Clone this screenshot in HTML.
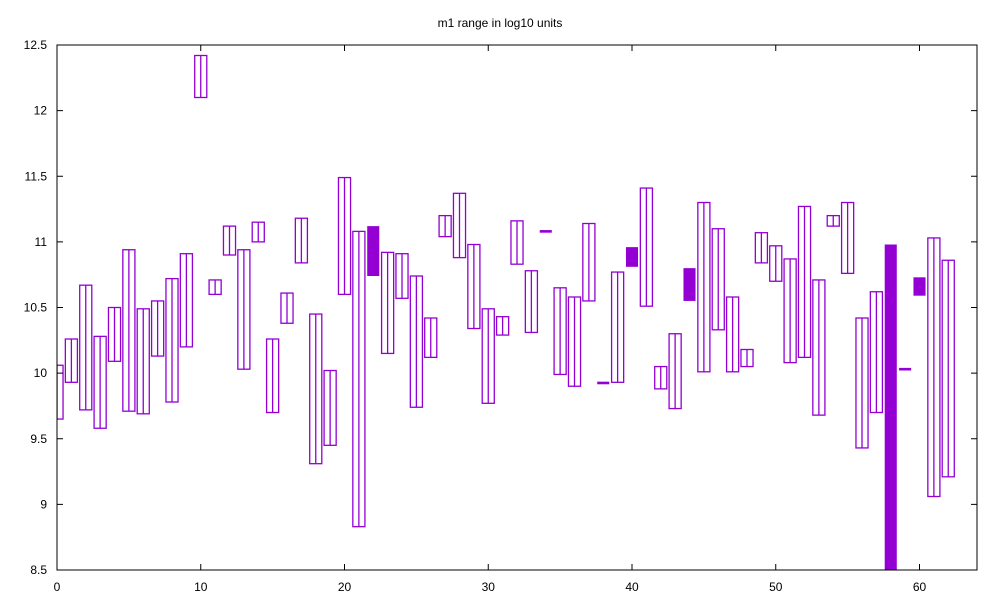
<!DOCTYPE html>
<html><head><meta charset="utf-8"><style>
body{margin:0;background:#fff;}
svg{display:block;font-family:"Liberation Sans",Arial,sans-serif;}
</style></head><body>
<svg id="chart" width="1000" height="600">
<defs><clipPath id="clip"><rect x="57" y="45" width="920" height="525"/></clipPath></defs>
<text x="500" y="27" text-anchor="middle" font-size="12">m1 range in log10 units</text>
<g id="marks" clip-path="url(#clip)"></g>
<g id="axes"></g>
<rect x="57" y="45" width="920" height="525" fill="none" stroke="#000" stroke-width="1"/>
</svg>
<script>
const xs = [0,1,2,3,4,5,6,7,8,9,10,11,12,13,14,15,16,17,18,19,20,21,22,23,24,25,26,27,28,29,30,31,32,33,34,35,36,37,38,39,40,41,42,43,44,45,46,47,48,49,50,51,52,53,54,55,56,57,58,59,60,61,62];
const lows = [9.65,9.93,9.72,9.58,10.09,9.71,9.69,10.13,9.78,10.20,12.10,10.60,10.90,10.03,11.00,9.70,10.38,10.84,9.31,9.45,10.60,8.83,10.74,10.15,10.57,9.74,10.12,11.04,10.88,10.34,9.77,10.29,10.83,10.31,11.07,9.99,9.90,10.55,9.915,9.93,10.81,10.51,9.88,9.73,10.55,10.01,10.33,10.01,10.05,10.84,10.70,10.08,10.12,9.68,11.12,10.76,9.43,9.70,8.3,10.02,10.59,9.06,9.21];
const highs = [10.06,10.26,10.67,10.28,10.50,10.94,10.49,10.55,10.72,10.91,12.42,10.71,11.12,10.94,11.15,10.26,10.61,11.18,10.45,10.02,11.49,11.08,11.12,10.92,10.91,10.74,10.42,11.20,11.37,10.98,10.49,10.43,11.16,10.78,11.09,10.65,10.58,11.14,9.935,10.77,10.96,11.41,10.05,10.30,10.80,11.30,11.10,10.58,10.18,11.07,10.97,10.87,11.27,10.71,11.20,11.30,10.42,10.62,10.98,10.04,10.73,11.03,10.86];
const filled = [0,0,0,0,0,0,0,0,0,0,0,0,0,0,0,0,0,0,0,0,0,0,1,0,0,0,0,0,0,0,0,0,0,0,1,0,0,0,1,0,1,0,0,0,1,0,0,0,0,0,0,0,0,0,0,0,0,0,1,1,1,0,0];
const xTicks = [0,10,20,30,40,50,60];
const yTicks = [8.5,9,9.5,10,10.5,11,11.5,12,12.5];
const yLabels = ["8.5","9","9.5","10","10.5","11","11.5","12","12.5"];

const L=57,R=977,T=45,B=570;
const X = v => L + (v-0)/(64-0)*(R-L);
const Y = v => T + (12.5-v)/(12.5-8.5)*(B-T);
const NS="http://www.w3.org/2000/svg";
const marks=document.getElementById('marks'), axes=document.getElementById('axes');
function mk(tag,attrs,parent){const e=document.createElementNS(NS,tag);for(const k in attrs)e.setAttribute(k,attrs[k]);parent.appendChild(e);return e;}
const C="#9400d3", hw=0.42;
xs.forEach((x,i)=>{
  const x0=X(x-hw), x1=X(x+hw), y0=Y(highs[i]), y1=Y(lows[i]);
  const g=mk('g',{},marks);
  
  
  if(filled[i]){
    mk('rect',{x:x0,y:y0,width:x1-x0,height:Math.max(y1-y0,2.5),fill:C},g);
  } else {
    mk('rect',{x:x0,y:y0,width:x1-x0,height:y1-y0,fill:"none",stroke:C,"stroke-width":1.3},g);
    mk('line',{x1:X(x),x2:X(x),y1:y0,y2:y1,stroke:C,"stroke-width":1.3},g);
  }
});
xTicks.forEach(t=>{
  const x=X(t);
  mk('line',{x1:x,x2:x,y1:B,y2:B-6,stroke:"#000"},axes);
  mk('line',{x1:x,x2:x,y1:T,y2:T+6,stroke:"#000"},axes);
  const tx=mk('text',{x:x,y:591,"text-anchor":"middle","font-size":12},axes);
  tx.textContent=t;
  
  
});
yTicks.forEach((t,i)=>{
  const y=Y(t);
  mk('line',{x1:L,x2:L+6,y1:y,y2:y,stroke:"#000"},axes);
  mk('line',{x1:R,x2:R-6,y1:y,y2:y,stroke:"#000"},axes);
  const tx=mk('text',{x:47,y:y+4,"text-anchor":"end","font-size":12},axes);
  tx.textContent=yLabels[i];
  
  
});
</script>
</body></html>
